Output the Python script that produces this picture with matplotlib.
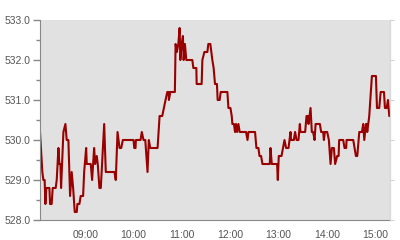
import pandas as pd
import matplotlib
matplotlib.use('Agg')
import matplotlib.pyplot as plt
import matplotlib.dates as mdates
from matplotlib.ticker import MultipleLocator, FormatStrFormatter

plt.rcParams['font.family'] = ['Liberation Sans', 'DejaVu Sans']

# minutes after 09:00 and price
minutes = [-56.5, -53.6, -52.3, -50.7, -49.8, -48.6, -44.8, -44.0, -42.0, -40.7,
           -37.0, -35.7, -33.6, -32.4, -31.1, -30.3, -27.4, -24.9, -23.3, -21.2,
           -19.1, -17.1, -15.3, -13.3, -10.8, -10.0, -7.5, -5.9, -2.9, -1.6,
           0.9, 1.6, 6.6, 8.3, 10.8, 12.1, 14.1, 15.3, 17.4, 19.1,
           23.3, 25.3, 36.1, 37.7, 39.9, 42.4, 44.5, 46.5, 59.8, 60.7,
           62.3, 62.7, 68.5, 70.1, 72.2, 74.4, 77.2, 78.8, 80.6, 89.7,
           92.2, 95.5, 97.5, 99.6, 101.8, 103.4, 103.8, 105.5, 111.2, 112.1,
           113.7, 115.5, 117.1, 118.0, 119.6, 121.2, 122.1, 123.7, 125.4, 132.9,
           134.2, 137.9, 138.3, 144.5, 145.4, 147.9, 151.6, 152.8, 155.3, 157.8,
           159.4, 161.1, 163.5, 164.4, 166.9, 168.2, 176.5, 177.8, 180.3, 181.9,
           182.7, 184.7, 186.0, 187.2, 188.5, 190.2, 191.8, 199.7, 201.5, 202.7,
           210.9, 212.6, 215.1, 216.4, 218.4, 220.1, 229.2, 230.1, 231.7, 238.3,
           239.2, 240.4, 243.8, 247.5, 249.5, 252.5, 255.0, 255.7, 259.1, 260.7,
           262.5, 264.9, 266.6, 267.4, 273.2, 274.9, 276.5, 277.4, 279.9, 281.5,
           283.1, 284.9, 286.2, 291.5, 293.1, 295.6, 296.5, 297.7, 300.6, 302.7,
           304.8, 306.4, 308.9, 310.5, 313.0, 314.8, 315.5, 320.5, 322.2, 324.2,
           324.7, 333.0, 336.3, 338.0, 339.7, 340.5, 343.8, 345.4, 346.7, 348.8,
           349.7, 350.4, 352.9, 356.2, 361.2, 362.5, 365.3, 367.1, 371.2, 372.4,
           374.6, 376.2, 377.8, 378.7]
price = [530.2, 529.2, 529.0, 529.0, 528.4, 528.8, 528.8, 528.4, 528.4, 528.8,
         528.8, 529.0, 529.8, 529.4, 529.4, 528.8, 530.2, 530.4, 530.0, 530.0,
         528.6, 529.2, 528.8, 528.2, 528.2, 528.4, 528.4, 528.6, 528.6, 529.2,
         529.8, 529.4, 529.4, 529.0, 529.8, 529.4, 529.6, 529.4, 528.8, 528.8,
         530.4, 529.2, 529.2, 529.0, 530.2, 529.8, 529.8, 530.0, 530.0, 529.8,
         529.8, 530.0, 530.0, 530.2, 530.0, 530.0, 529.2, 530.0, 529.8, 529.8,
         530.6, 530.6, 530.8, 531.0, 531.2, 531.2, 531.0, 531.2, 531.2, 532.4,
         532.2, 532.4, 532.8, 532.0, 532.4, 532.6, 532.0, 532.4, 532.0, 532.0,
         531.8, 531.8, 531.4, 531.4, 532.0, 532.2, 532.2, 532.4, 532.4, 532.0,
         531.8, 531.4, 531.4, 531.0, 531.0, 531.2, 531.2, 530.8, 530.8, 530.6,
         530.4, 530.4, 530.2, 530.4, 530.2, 530.4, 530.2, 530.2, 530.0, 530.2,
         530.2, 529.8, 529.8, 529.6, 529.6, 529.4, 529.4, 529.8, 529.4, 529.4,
         529.0, 529.6, 529.6, 530.0, 529.8, 529.8, 530.2, 530.0, 530.0, 530.2,
         530.0, 530.0, 530.4, 530.2, 530.2, 530.6, 530.6, 530.4, 530.8, 530.2,
         530.2, 530.0, 530.4, 530.4, 530.2, 530.2, 530.0, 530.2, 530.2, 530.0,
         529.4, 529.8, 529.8, 529.4, 529.6, 529.6, 530.0, 530.0, 529.8, 529.8,
         530.0, 530.0, 529.6, 529.6, 530.0, 530.2, 530.2, 530.4, 530.0, 530.4,
         530.4, 530.2, 530.6, 531.6, 531.6, 530.8, 530.8, 531.2, 531.2, 530.8,
         530.8, 531.0, 530.6, 530.6]

times = pd.Timestamp('2024-01-02 09:00') + pd.to_timedelta(minutes, unit='m')

fig = plt.figure(figsize=(4, 2.4), dpi=100)
ax = fig.add_axes([0.1, 1 - 220 / 240, 0.875, 200 / 240])
ax.set_facecolor('#e1e1e1')
ax.plot(times, price, color='#990000', lw=1.5)
ax.set_xlim(times[0], times[-1])
ax.set_ylim(528, 533)

ax.yaxis.set_major_locator(MultipleLocator(1))
ax.yaxis.set_minor_locator(MultipleLocator(0.5))
ax.yaxis.set_major_formatter(FormatStrFormatter('%.1f'))
ax.xaxis.set_major_locator(mdates.HourLocator())
ax.xaxis.set_major_formatter(mdates.DateFormatter('%H:%M'))

ax.tick_params(axis='y', which='major', length=5, width=1, color='#888888',
               labelsize=7.5, labelcolor='#555555', pad=2)
ax.tick_params(axis='y', which='minor', length=3, width=1, color='#888888')
ax.tick_params(axis='x', length=0, labelsize=7.5, labelcolor='#555555', pad=7)

for side in ['top']:
    ax.spines[side].set_visible(False)
ax.spines['left'].set_color('#888888')
ax.spines['bottom'].set_color('#888888')
ax.spines['right'].set_color('#d8d8d8')

# light ticks on the right edge
ax2 = ax.twinx()
ax2.set_ylim(528, 533)
ax2.yaxis.set_major_locator(MultipleLocator(1))
ax2.tick_params(axis='y', length=3, color='#d0d0d0', labelright=False)
for side in ['top', 'left', 'bottom']:
    ax2.spines[side].set_visible(False)
ax2.spines['right'].set_color('#d8d8d8')

plt.savefig('out.png', dpi=100)
